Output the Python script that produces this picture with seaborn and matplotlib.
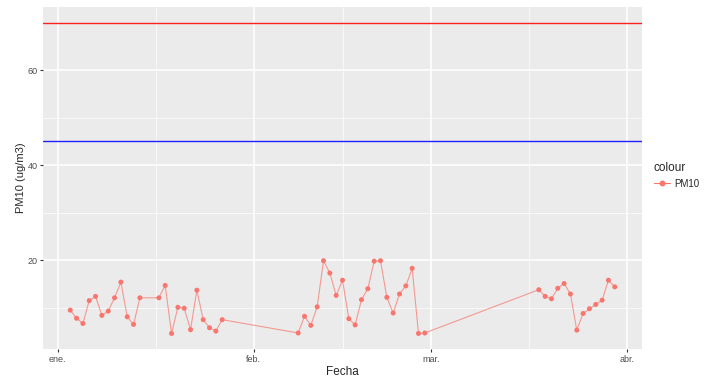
import pandas as pd
import numpy as np
import matplotlib
matplotlib.use("Agg")
import matplotlib.pyplot as plt
import matplotlib.dates as mdates
from matplotlib.lines import Line2D
import seaborn as sns

# fechas de medicion (2019)
fechas = (
    [f"2019-01-{d:02d}" for d in [3, 4, 5, 6, 7, 8, 9, 10, 11, 12, 13, 14]]
    + [f"2019-01-{d:02d}" for d in [17, 18, 19, 20, 21, 22, 23, 24, 25, 26, 27]]
    + [f"2019-02-{d:02d}" for d in range(8, 29)]
    + [f"2019-03-{d:02d}" for d in range(18, 31)]
)
pm10 = [
    9.5, 7.8, 6.7, 11.5, 12.4, 8.4, 9.3, 12.1, 15.4, 8.1, 6.5, 12.1,
    12.1, 14.7, 4.6, 10.1, 9.9, 5.4, 13.7, 7.5, 5.8, 5.1, 7.5,
    4.7, 8.2, 6.3, 10.2, 19.9, 17.3, 12.6, 15.8, 7.7, 6.4, 11.7, 14.0,
    19.8, 19.9, 12.2, 8.9, 12.9, 14.6, 18.3, 4.6, 4.7,
    13.8, 12.4, 11.9, 14.1, 15.1, 12.9, 5.3, 8.8, 9.8, 10.7, 11.6, 15.8, 14.4,
]
limite_anual = 45
limite_diario = 70
meses = ["2019-01-01", "2019-02-01", "2019-03-01", "2019-04-01"]
meses_lab = ["ene.", "feb.", "mar.", "abr."]

df = pd.DataFrame({"Fecha": pd.to_datetime(fechas), "PM10": pm10})

sns.set_style("darkgrid", {"axes.facecolor": "#EBEBEB", "grid.color": "white"})
plt.rcParams["font.family"] = ["Liberation Sans", "DejaVu Sans"]

fig = plt.figure(figsize=(7.08, 3.79), dpi=100)
ax = fig.add_axes([43 / 708, 1 - 349 / 379, (642 - 43) / 708, (349 - 7) / 379])

col = "#F8766D"
sns.lineplot(data=df, x="Fecha", y="PM10", ax=ax, color=col, alpha=0.7,
             linewidth=0.8, legend=False)
sns.scatterplot(data=df, x="Fecha", y="PM10", ax=ax, color=col, s=13,
                edgecolor="none", legend=False, zorder=3)
ax.axhline(limite_diario, color="#FF2020", linewidth=1.0, zorder=2.5)
ax.axhline(limite_anual, color="#2020FF", linewidth=1.0, zorder=2.5)

x0 = mdates.date2num(df["Fecha"].min())
x1 = mdates.date2num(df["Fecha"].max())
pad = (x1 - x0) * 0.05
ax.set_xlim(x0 - pad, x1 + pad)
ymin, ymax = min(pm10), limite_diario
ypad = (ymax - ymin) * 0.05
ax.set_ylim(ymin - ypad, ymax + ypad)

mnum = mdates.date2num(pd.to_datetime(meses))
ax.set_xticks(mnum)
ax.set_xticklabels(meses_lab)
ax.set_xticks((mnum[:-1] + mnum[1:]) / 2, minor=True)
ax.set_yticks([20, 40, 60])
ax.set_yticks([10, 30, 50, 70], minor=True)
ax.grid(which="major", color="white", linewidth=1.1)
ax.grid(which="minor", color="white", linewidth=0.5)
ax.tick_params(which="major", length=2.5, width=0.8, color="#333333",
               labelsize=6.5, labelcolor="#4D4D4D", pad=1.5, bottom=True, left=True)
ax.tick_params(which="minor", length=0)
for s in ax.spines.values():
    s.set_visible(False)
ax.set_xlabel("Fecha", fontsize=8.5, labelpad=1.5)
ax.set_ylabel("PM10 (ug/m3)", fontsize=8)
ax.yaxis.set_label_coords(-0.028, 0.5)

handle = Line2D([], [], color=col, marker="o", markersize=3.2, linewidth=0.8)
leg = fig.legend([handle], ["PM10"], title="colour", loc="upper left",
                 bbox_to_anchor=(654 / 708, 1 - 162 / 379), frameon=False,
                 fontsize=7, title_fontsize=8.5, handlelength=1.6,
                 handletextpad=0.5, borderaxespad=0, borderpad=0)
leg._legend_box.align = "left"

fig.savefig("out.png", dpi=100)
